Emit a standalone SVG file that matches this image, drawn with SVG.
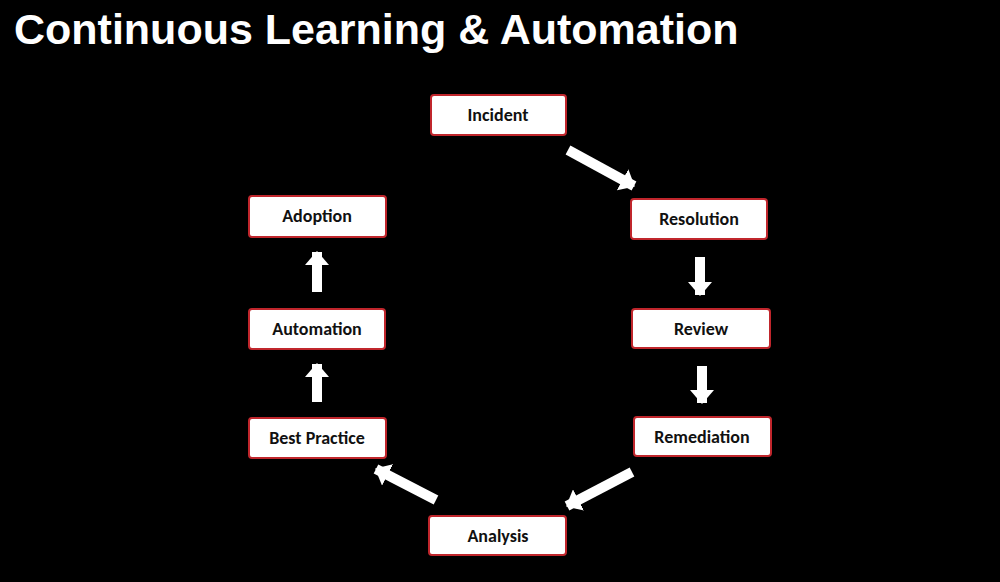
<svg xmlns="http://www.w3.org/2000/svg" width="1000" height="582" viewBox="0 0 1000 582">
<style>
.box{fill:#fff;stroke:#c0262c;stroke-width:2}
.lbl{font-family:Calibri,Carlito,"Open Sans","Liberation Sans",sans-serif;font-weight:bold;font-size:18px;fill:#111;text-anchor:middle;dominant-baseline:central}
.arr{stroke:#fff;stroke-width:10;fill:none}
</style>
<defs><marker id="ah" viewBox="0 0 14 24" refX="13" refY="12" markerWidth="1.4" markerHeight="2.4" orient="auto" markerUnits="strokeWidth"><path d="M0,0 L14,12 L0,24 Z" fill="#fff"/></marker></defs>
<rect width="1000" height="582" fill="#000"/>
<text x="14" y="44" font-family="Liberation Sans,Arial,sans-serif" font-weight="bold" font-size="43" fill="#fff">Continuous Learning &amp; Automation</text>
<g id="connectors">
<line class="arr" x1="568" y1="150" x2="634" y2="186" marker-end="url(#ah)"/>
<line class="arr" x1="700" y1="257" x2="700" y2="295" marker-end="url(#ah)"/>
<line class="arr" x1="702" y1="366" x2="702" y2="403" marker-end="url(#ah)"/>
<line class="arr" x1="632" y1="472" x2="567" y2="506" marker-end="url(#ah)"/>
<line class="arr" x1="436" y1="500" x2="376" y2="469" marker-end="url(#ah)"/>
<line class="arr" x1="317" y1="402" x2="317" y2="364" marker-end="url(#ah)"/>
<line class="arr" x1="317" y1="292" x2="317" y2="252" marker-end="url(#ah)"/>
</g>
<g id="incident"><rect class="box" x="431" y="95" width="135" height="40" rx="3"/><text class="lbl" x="498" y="115">Incident</text></g>
<g id="resolution"><rect class="box" x="631" y="199" width="136" height="40" rx="3"/><text class="lbl" x="699" y="219">Resolution</text></g>
<g id="review"><rect class="box" x="632" y="309" width="138" height="39" rx="3"/><text class="lbl" x="701" y="329">Review</text></g>
<g id="remediation"><rect class="box" x="634" y="417" width="137" height="39" rx="3"/><text class="lbl" x="702" y="437">Remediation</text></g>
<g id="analysis"><rect class="box" x="429" y="516" width="137" height="39" rx="3"/><text class="lbl" x="498" y="536">Analysis</text></g>
<g id="best-practice"><rect class="box" x="249" y="418" width="137" height="40" rx="3"/><text class="lbl" x="317" y="438">Best Practice</text></g>
<g id="automation"><rect class="box" x="249" y="309" width="136" height="40" rx="3"/><text class="lbl" x="317" y="329">Automation</text></g>
<g id="adoption"><rect class="box" x="249" y="196" width="137" height="41" rx="3"/><text class="lbl" x="317" y="216">Adoption</text></g>
</svg>
